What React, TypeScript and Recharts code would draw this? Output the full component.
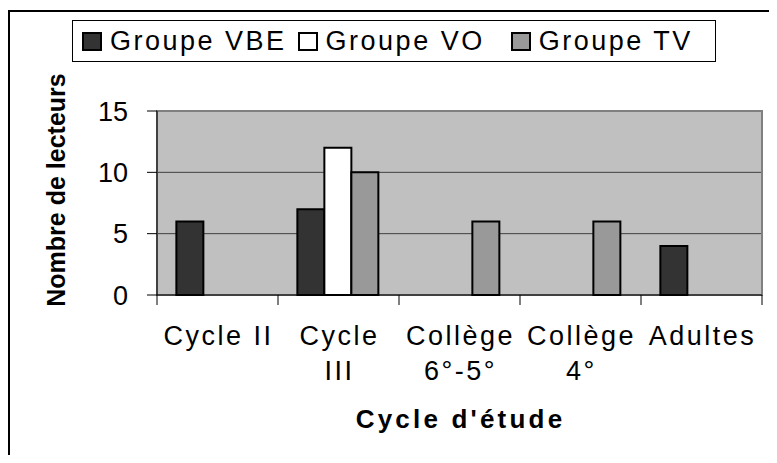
import * as React from 'react';
import {
  BarChart,
  Bar,
  XAxis,
  YAxis,
  CartesianGrid,
  ReferenceArea,
  Legend,
} from 'recharts';

const categories = ['Cycle II', 'Cycle\nIII', 'Collège\n6°-5°', 'Collège\n4°', 'Adultes'];
const groupeVBE = [6, 7, 0, 0, 4];
const groupeVO = [0, 12, 0, 0, 0];
const groupeTV = [0, 10, 6, 6, 0];
const yTicks = [0, 5, 10, 15];

const seriesNames = ['Groupe VBE', 'Groupe VO', 'Groupe TV'];
const seriesColors = ['#333333', '#ffffff', '#999999'];

const FONT = '"Liberation Sans", Arial, Helvetica, sans-serif';

const WIDTH = 777;
const HEIGHT = 463;
const MARGIN = { top: 111, right: 15, bottom: 0, left: 0 };
const Y_AXIS_W = 157;
const X_AXIS_H = 168;
const BAND = (WIDTH - MARGIN.right - MARGIN.left - Y_AXIS_W) / categories.length;

const chartData = categories.map((name, i) => ({
  name,
  [seriesNames[0]]: groupeVBE[i],
  [seriesNames[1]]: groupeVO[i],
  [seriesNames[2]]: groupeTV[i],
}));

// excel style: ticks sit on the category boundaries, labels wrap on two lines
const CategoryTick = (props: any) => {
  const { x, y, payload, index, visibleTicksCount } = props;
  const lines = String(payload.value).split('\n');
  const half = BAND / 2;
  return (
    <g>
      <line x1={x - half} x2={x - half} y1={y - 10} y2={y} stroke="#000" />
      {index === visibleTicksCount - 1 && (
        <line x1={x + half} x2={x + half} y1={y - 10} y2={y} stroke="#000" />
      )}
      <text
        x={x}
        y={y + 40}
        textAnchor="middle"
        fill="#000"
        fontSize={27}
        fontFamily={FONT}
        letterSpacing={2.5}
      >
        {lines.map((line, i) => (
          <tspan key={i} x={x + 1} dy={i === 0 ? 0 : 35}>
            {line}
          </tspan>
        ))}
      </text>
    </g>
  );
};

// legend drawn in series order (recharts would sort it by name)
const LegendBox = () => (
  <div
    style={{
      boxSizing: 'border-box',
      width: 644,
      height: 42,
      border: '1px solid #000',
      display: 'flex',
      alignItems: 'center',
      paddingLeft: 9,
      fontFamily: FONT,
      fontSize: 27,
      letterSpacing: 2.5,
      color: '#000',
      background: '#fff',
      whiteSpace: 'nowrap',
    }}
  >
    {seriesNames.map((name, i) => (
      <div
        key={name}
        style={{ display: 'flex', alignItems: 'center', flexShrink: 0, marginRight: i === 0 ? 11 : 26 }}
      >
        <span
          style={{
            boxSizing: 'border-box',
            display: 'inline-block',
            width: 20,
            height: 19,
            background: seriesColors[i],
            border: '2px solid #000',
            marginRight: 8,
          }}
        />
        <span style={{ lineHeight: 1 }}>{name}</span>
      </div>
    ))}
  </div>
);

// y title, plus the chart-area frame (left and top edges; the rest is cropped off)
const YTitle = () => (
  <g>
    <path d={`M9,${HEIGHT} L9,11 L${WIDTH},11`} fill="none" stroke="#000" strokeWidth={2} />
    <text
      transform="translate(65,190) rotate(-90)"
      textAnchor="middle"
      fontSize={25}
      fontWeight="bold"
      fontFamily={FONT}
      fill="#000"
    >
      Nombre de lecteurs
    </text>
  </g>
);

const XTitle = (props: any) => {
  const vb = props.viewBox || { x: 157, width: 605 };
  return (
    <text
      x={vb.x + vb.width / 2 + 1}
      y={428}
      textAnchor="middle"
      fontSize={26}
      fontWeight="bold"
      fontFamily={FONT}
      letterSpacing={3.2}
      fill="#000"
    >
      Cycle d'étude
    </text>
  );
};

export default function App() {
  return (
    <div
      style={{
        position: 'relative',
        width: WIDTH,
        height: HEIGHT,
        margin: -8,
        overflow: 'hidden',
        background: '#fff',
      }}
    >
      <BarChart
        width={WIDTH}
        height={HEIGHT}
        data={chartData}
        margin={MARGIN}
        barCategoryGap="16%"
        barGap={0}
      >
        <CartesianGrid
          vertical={false}
          horizontalValues={[5, 10]}
          stroke="#404040"
          fill="#c0c0c0"
          fillOpacity={1}
        />
        <ReferenceArea y1={0} y2={15} fill="none" fillOpacity={0} stroke="#808080" strokeWidth={2} />
        <XAxis
          dataKey="name"
          height={X_AXIS_H}
          interval={0}
          tickSize={10}
          tickMargin={0}
          tickLine={false}
          axisLine={{ stroke: '#000' }}
          tick={<CategoryTick />}
          label={<XTitle />}
        />
        <YAxis
          width={Y_AXIS_W}
          domain={[0, 15]}
          ticks={yTicks}
          interval={0}
          tickSize={10}
          tickMargin={19}
          axisLine={{ stroke: '#000' }}
          tickLine={{ stroke: '#000' }}
          tick={{ fill: '#000', fontSize: 27, fontFamily: FONT }}
          label={<YTitle />}
        />
        <Legend
          layout="horizontal"
          verticalAlign="middle"
          align="center"
          wrapperStyle={{ left: 72, top: 20, width: 644, height: 42 }}
          content={<LegendBox />}
        />
        {seriesNames.map((name, i) => (
          <Bar
            key={name}
            dataKey={name}
            fill={seriesColors[i]}
            stroke="#000"
            strokeWidth={2}
            isAnimationActive={false}
          />
        ))}
      </BarChart>
    </div>
  );
}
